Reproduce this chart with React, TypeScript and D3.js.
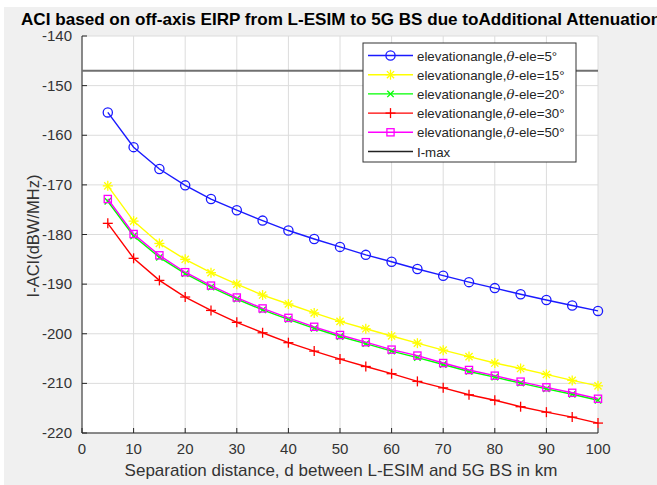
import React from "react";
import * as d3 from "d3";

const distances = [5, 10, 15, 20, 25, 30, 35, 40, 45, 50, 55, 60, 65, 70, 75, 80, 85, 90, 95, 100];
const ele5 = [-155.4, -162.4, -166.8, -170.1, -172.85, -175.1, -177.2, -179.2, -180.9, -182.5, -184.1, -185.5, -186.95, -188.3, -189.6, -190.8, -192.05, -193.2, -194.3, -195.4];
const ele15 = [-170.2, -177.3, -181.8, -185.0, -187.7, -190.0, -192.2, -194.0, -195.8, -197.5, -199.0, -200.45, -201.9, -203.3, -204.6, -205.9, -207.0, -208.2, -209.4, -210.5];
const ele20 = [-173.3, -180.3, -184.6, -187.9, -190.6, -193.0, -195.2, -197.1, -198.9, -200.55, -202.0, -203.5, -204.8, -206.2, -207.6, -208.75, -209.95, -211.1, -212.2, -213.4];
const ele30 = [-177.75, -184.8, -189.25, -192.6, -195.3, -197.7, -199.8, -201.8, -203.5, -205.1, -206.6, -208.05, -209.6, -210.9, -212.3, -213.4, -214.7, -215.8, -216.8, -218.0];
const ele50 = [-172.85, -179.9, -184.2, -187.6, -190.3, -192.7, -194.9, -196.8, -198.6, -200.25, -201.7, -203.2, -204.4, -205.9, -207.3, -208.45, -209.65, -210.8, -211.9, -213.1];
const iMax = -147;
const xTicks = [0, 10, 20, 30, 40, 50, 60, 70, 80, 90, 100];
const yTicks = [-220, -210, -200, -190, -180, -170, -160, -150, -140];
const seriesNames = ["5", "15", "20", "30", "50"];

type Marker = "circle" | "star" | "x" | "plus" | "square";
const series: { values: number[]; color: string; marker: Marker; angle: string }[] = [
  { values: ele5, color: "#1a1aff", marker: "circle", angle: seriesNames[0] },
  { values: ele15, color: "#ffff00", marker: "star", angle: seriesNames[1] },
  { values: ele20, color: "#00ff00", marker: "x", angle: seriesNames[2] },
  { values: ele30, color: "#ff0000", marker: "plus", angle: seriesNames[3] },
  { values: ele50, color: "#ff00ff", marker: "square", angle: seriesNames[4] },
];

const FONT = "'Liberation Sans', Arial, Helvetica, sans-serif";
const W = 657, H = 485;
const L = 82, R = 598, T = 36, B = 433;

function MarkerShape({ type, x, y, color }: { type: Marker; x: number; y: number; color: string }) {
  const sw = 1.3;
  if (type === "circle") return <circle cx={x} cy={y} r={4.6} fill="none" stroke={color} strokeWidth={sw} />;
  if (type === "square") return <rect x={x - 3.6} y={y - 3.6} width={7.2} height={7.2} fill="none" stroke={color} strokeWidth={sw} />;
  if (type === "plus")
    return (
      <g stroke={color} strokeWidth={sw}>
        <line x1={x - 5} x2={x + 5} y1={y} y2={y} />
        <line x1={x} x2={x} y1={y - 5} y2={y + 5} />
      </g>
    );
  if (type === "x")
    return (
      <g stroke={color} strokeWidth={sw}>
        <line x1={x - 3.2} x2={x + 3.2} y1={y - 3.2} y2={y + 3.2} />
        <line x1={x - 3.2} x2={x + 3.2} y1={y + 3.2} y2={y - 3.2} />
      </g>
    );
  return (
    <g stroke={color} strokeWidth={sw}>
      <line x1={x - 5} x2={x + 5} y1={y} y2={y} />
      <line x1={x} x2={x} y1={y - 5} y2={y + 5} />
      <line x1={x - 3.6} x2={x + 3.6} y1={y - 3.6} y2={y + 3.6} />
      <line x1={x - 3.6} x2={x + 3.6} y1={y + 3.6} y2={y - 3.6} />
    </g>
  );
}

export default function App() {
  const xs = d3.scaleLinear().domain([0, 100]).range([L, R]);
  const ys = d3.scaleLinear().domain([-220, -140]).range([B, T]);
  const line = d3
    .line<[number, number]>()
    .x((d) => xs(d[0]))
    .y((d) => ys(d[1]));

  const legX = 363, legY = 43, legW = 213, legH = 119, rowH = 19.2;

  return (
    <svg width={W} height={H} style={{ position: "absolute", left: 0, top: 0 }} fontFamily={FONT}>
      <rect x={0} y={0} width={W} height={H} fill="#ffffff" />
      <rect x={4} y={7} width={W - 4} height={H - 7} fill="#f0f0f0" />
      <rect x={L} y={T} width={R - L} height={B - T} fill="#ffffff" />
      {/* grid */}
      {xTicks.map((t) => (
        <line key={"gx" + t} x1={xs(t)} x2={xs(t)} y1={T} y2={B} stroke="#dcdcdc" strokeWidth={1} />
      ))}
      {yTicks.map((t) => (
        <line key={"gy" + t} x1={L} x2={R} y1={ys(t)} y2={ys(t)} stroke="#dcdcdc" strokeWidth={1} />
      ))}
      {/* axes */}
      <line x1={L} x2={L} y1={T} y2={B} stroke="#262626" strokeWidth={1} />
      <line x1={L} x2={R} y1={B} y2={B} stroke="#262626" strokeWidth={1} />
      {xTicks.map((t) => (
        <g key={"tx" + t}>
          <line x1={xs(t)} x2={xs(t)} y1={B} y2={B - 5} stroke="#262626" />
          <text x={xs(t)} y={B + 21} textAnchor="middle" fontSize={15} fill="#333">
            {t}
          </text>
        </g>
      ))}
      {yTicks.map((t) => (
        <g key={"ty" + t}>
          <line x1={L} x2={L + 5} y1={ys(t)} y2={ys(t)} stroke="#262626" />
          <text x={L - 10} y={ys(t) + 5} textAnchor="end" fontSize={15} fill="#333">
            {t}
          </text>
        </g>
      ))}
      {/* I-max */}
      <line x1={L} x2={R} y1={ys(iMax)} y2={ys(iMax)} stroke="#707070" strokeWidth={2} />
      {/* series */}
      {series.map((s, i) => {
        const pts = distances.map((d, j) => [d, s.values[j]] as [number, number]);
        return (
          <g key={"s" + i}>
            <path d={line(pts) || ""} fill="none" stroke={s.color} strokeWidth={1.4} />
            {pts.map((p, j) => (
              <MarkerShape key={j} type={s.marker} x={xs(p[0])} y={ys(p[1])} color={s.color} />
            ))}
          </g>
        );
      })}
      {/* legend */}
      <rect x={legX} y={legY} width={legW} height={legH} fill="#ffffff" stroke="#333" strokeWidth={1} />
      {series.map((s, i) => {
        const cy = legY + 12.5 + i * rowH;
        return (
          <g key={"l" + i}>
            <line x1={legX + 5} x2={legX + 50} y1={cy} y2={cy} stroke={s.color} strokeWidth={1.4} />
            <MarkerShape type={s.marker} x={legX + 27.5} y={cy} color={s.color} />
            <text x={legX + 54} y={cy + 5} fontSize={13.3} fill="#262626">
              elevationangle,<tspan fontStyle="italic" fontFamily="'DejaVu Serif', 'Liberation Serif', serif">θ</tspan>-ele={s.angle}°
            </text>
          </g>
        );
      })}
      <g>
        <line x1={legX + 5} x2={legX + 50} y1={legY + 12.5 + 5 * rowH} y2={legY + 12.5 + 5 * rowH} stroke="#222" strokeWidth={1.4} />
        <text x={legX + 54} y={legY + 17.5 + 5 * rowH} fontSize={13.3} fill="#262626">
          I-max
        </text>
      </g>
      {/* labels */}
      <text x={21} y={25} fontSize={17.1} fontWeight="bold" fill="#000">
        ACI based on off-axis EIRP from L-ESIM to 5G BS due toAdditional Attenuation
      </text>
      <text x={341} y={476} textAnchor="middle" fontSize={17} fill="#333">
        Separation distance, d between L-ESIM and 5G BS in km
      </text>
      <text transform={`translate(39, ${236}) rotate(-90)`} textAnchor="middle" fontSize={16.5} fill="#333">
        I-ACI(dBW/MHz)
      </text>
    </svg>
  );
}
